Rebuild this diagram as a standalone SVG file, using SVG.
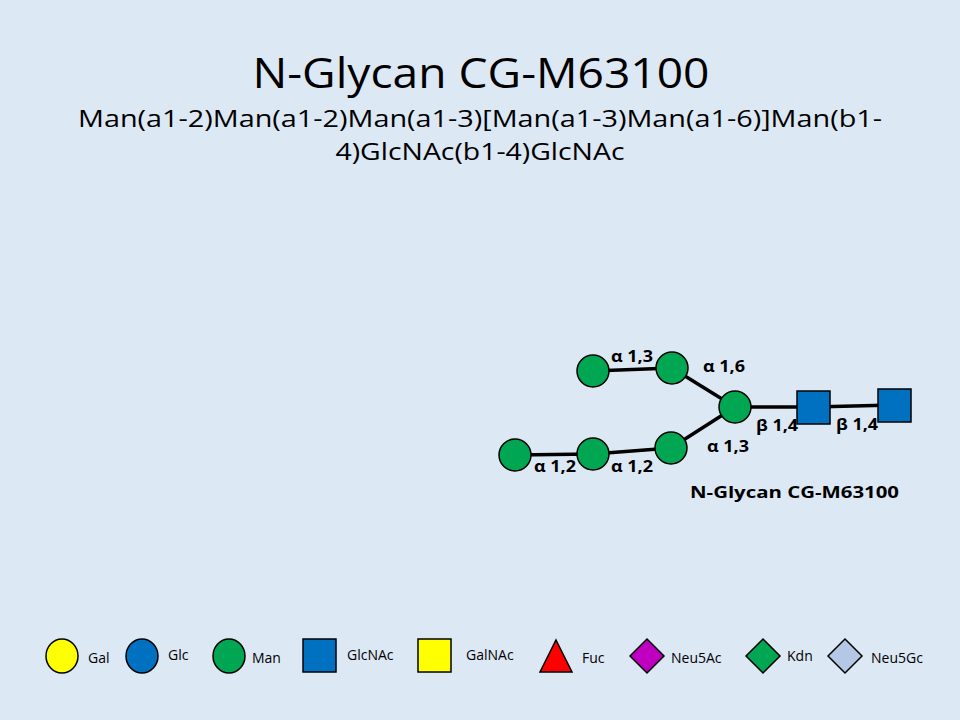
<svg xmlns="http://www.w3.org/2000/svg" width="960" height="720" viewBox="0 0 960 720">
<style>
.m{fill:#00a651;stroke:#000;stroke-width:1.5}
.g{fill:#0070c0;stroke:#000;stroke-width:1.5}
.l{font-family:"Open Sans","Liberation Sans",sans-serif;font-weight:bold;font-size:16px;fill:#000}
.t{font-family:"Open Sans","Liberation Sans",sans-serif;fill:#000;text-anchor:middle}
.lg{font-family:"Open Sans","Liberation Sans",sans-serif;font-size:14px;fill:#000}
.e{stroke:#000;stroke-width:3.5}
</style>
<rect width="960" height="720" fill="#dde8f5"/>
<text class="t" x="481" y="88" font-size="42" textLength="457" lengthAdjust="spacingAndGlyphs">N-Glycan CG-M63100</text>
<text class="t" x="480" y="127" font-size="24" textLength="804" lengthAdjust="spacingAndGlyphs">Man(a1-2)Man(a1-2)Man(a1-3)[Man(a1-3)Man(a1-6)]Man(b1-</text>
<text class="t" x="480" y="160" font-size="24" textLength="289" lengthAdjust="spacingAndGlyphs">4)GlcNAc(b1-4)GlcNAc</text>
<g id="edges">
<line class="e" x1="593" y1="371" x2="672" y2="368"/>
<line class="e" x1="672" y1="368" x2="735" y2="407"/>
<line class="e" x1="515" y1="455" x2="593" y2="454"/>
<line class="e" x1="593" y1="454" x2="671" y2="448"/>
<line class="e" x1="671" y1="448" x2="735" y2="407"/>
<line class="e" x1="735" y1="407" x2="813" y2="407"/>
<line class="e" x1="813" y1="407" x2="894" y2="405"/>
</g>
<g id="n1"><circle class="m" cx="593" cy="371" r="16"/></g>
<g id="n2"><circle class="m" cx="672" cy="368" r="16"/></g>
<g id="n3"><circle class="m" cx="735" cy="407" r="16"/></g>
<g id="n4"><circle class="m" cx="515" cy="455" r="16"/></g>
<g id="n5"><circle class="m" cx="593" cy="454" r="16"/></g>
<g id="n6"><circle class="m" cx="671" cy="448" r="16"/></g>
<g id="n7"><rect class="g" x="797" y="391" width="33" height="33"/></g>
<g id="n8"><rect class="g" x="878" y="389" width="33" height="33"/></g>
<text class="l" x="611" y="362" textLength="42" lengthAdjust="spacingAndGlyphs">α 1,3</text>
<text class="l" x="703" y="372" textLength="42" lengthAdjust="spacingAndGlyphs">α 1,6</text>
<text class="l" x="534" y="472" textLength="42" lengthAdjust="spacingAndGlyphs">α 1,2</text>
<text class="l" x="611" y="472" textLength="42" lengthAdjust="spacingAndGlyphs">α 1,2</text>
<text class="l" x="707" y="452" textLength="42" lengthAdjust="spacingAndGlyphs">α 1,3</text>
<text class="l" x="756" y="431" textLength="42" lengthAdjust="spacingAndGlyphs">β 1,4</text>
<text class="l" x="836" y="430" textLength="42" lengthAdjust="spacingAndGlyphs">β 1,4</text>
<text class="l" x="690" y="498" font-size="19" textLength="209" lengthAdjust="spacingAndGlyphs">N-Glycan CG-M63100</text>
<g id="legend">
<ellipse cx="62" cy="656" rx="16" ry="17" fill="#ffff00" stroke="#000" stroke-width="1.5"/>
<text class="lg" x="88" y="663">Gal</text>
<ellipse cx="142" cy="656" rx="16" ry="17" fill="#0070c0" stroke="#000" stroke-width="1.5"/>
<text class="lg" x="168" y="660">Glc</text>
<ellipse cx="229" cy="656" rx="16" ry="17" fill="#00a651" stroke="#000" stroke-width="1.5"/>
<text class="lg" x="252" y="663">Man</text>
<rect x="303" y="639" width="33" height="33" fill="#0070c0" stroke="#000" stroke-width="1.5"/>
<text class="lg" x="347" y="660">GlcNAc</text>
<rect x="418" y="639" width="33" height="33" fill="#ffff00" stroke="#000" stroke-width="1.5"/>
<text class="lg" x="466" y="660">GalNAc</text>
<polygon points="556,640 572,672 540,672" fill="#ff0000" stroke="#000" stroke-width="1.5"/>
<text class="lg" x="582" y="663">Fuc</text>
<polygon points="647,639 664,656 647,673 630,656" fill="#c000c0" stroke="#000" stroke-width="1.5"/>
<text class="lg" x="671" y="663">Neu5Ac</text>
<polygon points="763,639 780,656 763,673 746,656" fill="#00a651" stroke="#000" stroke-width="1.5"/>
<text class="lg" x="787" y="661">Kdn</text>
<polygon points="845,639 862,656 845,673 828,656" fill="#b4c7e7" stroke="#000" stroke-width="1.5"/>
<text class="lg" x="871" y="663">Neu5Gc</text>
</g>
</svg>
